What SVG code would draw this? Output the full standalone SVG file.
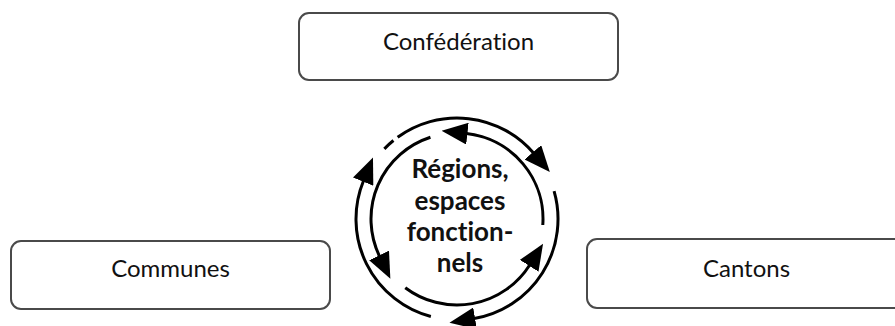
<svg xmlns="http://www.w3.org/2000/svg" width="895" height="326" viewBox="0 0 895 326">
<style>
.box{fill:#fff;stroke:#4a4a4a;stroke-width:2}
text{font-variant-ligatures:none;font-feature-settings:"liga" 0}
.lbl{font-family:Lato,"Open Sans","DejaVu Sans",sans-serif;font-size:24px;fill:#111;text-anchor:middle}
.ctr{font-family:Lato,"Open Sans","DejaVu Sans",sans-serif;font-size:26px;font-weight:bold;fill:#111;text-anchor:middle}
.arc{fill:none;stroke:#000;stroke-width:3;marker-end:url(#ah)}
.plain{fill:none;stroke:#000;stroke-width:3}
</style>
<defs>
<marker id="ah" markerUnits="userSpaceOnUse" markerWidth="26" markerHeight="22" viewBox="0 0 26 22" refX="1" refY="11" orient="auto">
<path d="M0,0 L26,11 L0,22 z" fill="#000"/>
</marker>
</defs>
<rect width="895" height="326" fill="#fff"/>
<g id="confederation">
<rect class="box" x="299" y="13" width="319" height="67" rx="10"/>
<text class="lbl" x="458.5" y="50">Confédération</text>
</g>
<g id="communes">
<rect class="box" x="11" y="241" width="319" height="68" rx="10"/>
<text class="lbl" x="170.5" y="277">Communes</text>
</g>
<g id="cantons">
<rect class="box" x="587" y="239" width="319" height="69" rx="10"/>
<text class="lbl" x="746.5" y="277">Cantons</text>
</g>
<g id="regions">
<text class="ctr" x="460" y="178">Régions,</text>
<text class="ctr" x="460" y="210">espaces</text>
<text class="ctr" x="460" y="241">fonction-</text>
<text class="ctr" x="460" y="272">nels</text>
</g>
<g id="connectors">
<path class="arc" d="M554.09,191.16 A101,101 0 0 1 474.11,318.55"/>
<path class="arc" d="M430.86,316.56 A101,101 0 0 1 363.51,180.76"/>
<path class="plain" d="M384.35,148.84 A101,101 0 0 1 393.44,140.51"/>
<path class="arc" d="M397.63,137.29 A101,101 0 0 1 533.52,153.08"/>
<path class="arc" d="M542.79,225.0 A86,86 0 0 0 466.43,133.51"/>
<path class="arc" d="M430.43,137.21 A86,86 0 0 0 379.51,256.30"/>
<path class="arc" d="M405.25,287.68 A86,86 0 0 0 529.70,264.96"/>
</g>
</svg>
